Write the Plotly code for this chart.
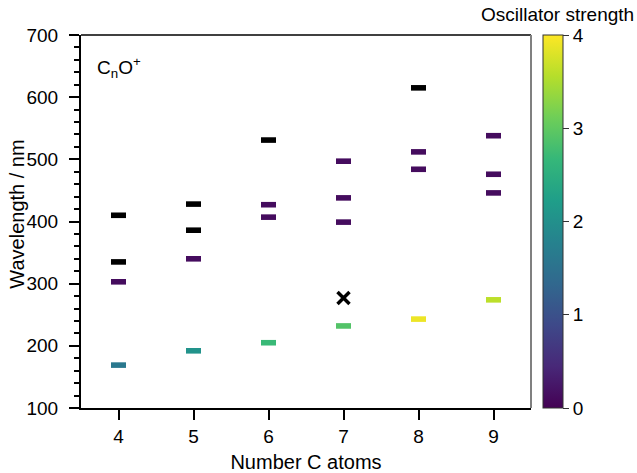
import plotly.graph_objects as go

# Data
n_colored = [4, 4, 5, 5, 6, 6, 6, 7, 7, 7, 7, 8, 8, 8, 9, 9, 9, 9]
wl_colored = [303, 169, 340, 192, 427, 407, 205, 497, 438, 399, 232, 512, 484, 243, 538, 476, 446, 274]
osc_colored = [0.12, 1.6, 0.12, 2.05, 0.12, 0.12, 2.7, 0.12, 0.12, 0.12, 2.9, 0.12, 0.12, 3.9, 0.12, 0.12, 0.12, 3.6]

n_dark = [4, 4, 5, 5, 6, 8]
wl_dark = [410, 335, 428, 386, 531, 615]

n_cross = [7]
wl_cross = [277]

cb_ticks = [0, 1, 2, 3, 4]

H = 9  # bar thickness in nm
FONT = "Liberation Sans, Arial, sans-serif"
FS = 19

fig = go.Figure()
fig.add_trace(go.Bar(
    x=n_colored, y=[H] * len(n_colored), base=[w - H / 2 for w in wl_colored],
    width=0.2,
    marker=dict(color=osc_colored, colorscale="Viridis", cmin=0, cmax=4, line=dict(width=0),
                colorbar=dict(x=1.0273, xanchor="left", xref="paper", y=0.5, yanchor="middle",
                              len=1, lenmode="fraction", thickness=20, xpad=0, ypad=0,
                              outlinewidth=1, outlinecolor="#333",
                              tickvals=cb_ticks, ticks="outside", ticklen=6, tickwidth=1,
                              tickcolor="#333",
                              tickfont=dict(family=FONT, size=FS, color="black"))),
    showlegend=False,
))
fig.add_trace(go.Bar(
    x=n_dark, y=[H] * len(n_dark), base=[w - H / 2 for w in wl_dark],
    width=0.2, marker=dict(color="black", line=dict(width=0)), showlegend=False,
))
fig.add_trace(go.Scatter(
    x=n_cross, y=wl_cross, mode="markers",
    marker=dict(symbol="x-thin", size=12, line=dict(width=3.5, color="black")),
    showlegend=False,
))

fig.update_layout(
    width=637, height=473,
    margin=dict(l=81, r=106, t=35, b=65, autoexpand=False),
    plot_bgcolor="white", paper_bgcolor="white",
    font=dict(family=FONT, size=FS, color="black"),
    barmode="overlay",
    xaxis=dict(range=[3.5, 9.5], tickvals=[4, 5, 6, 7, 8, 9], showgrid=False, zeroline=False,
               showline=True, linecolor="black", linewidth=2, mirror=False,
               ticks="outside", ticklen=10, tickwidth=2, tickcolor="black",
               title=dict(text="Number C atoms", standoff=10, font=dict(size=20))),
    yaxis=dict(range=[100, 700], tickvals=[100, 200, 300, 400, 500, 600, 700], showgrid=False,
               zeroline=False, showline=True, linecolor="black", linewidth=2,
               ticks="outside", ticklen=10, tickwidth=2, tickcolor="black", ticklabelstandoff=7,
               minor=dict(dtick=20, ticks="outside", ticklen=5, tickwidth=1.5, tickcolor="black")),
    shapes=[
        dict(type="line", xref="paper", yref="paper", x0=0, x1=1, y0=1, y1=1,
             line=dict(color="black", width=1.5)),
        dict(type="line", xref="paper", yref="paper", x0=1, x1=1, y0=0, y1=1,
             line=dict(color="#808080", width=2)),
    ],
    annotations=[
        dict(text="Wavelength / nm", xref="paper", yref="paper", x=-0.143, y=0.52,
             xanchor="center", yanchor="middle", textangle=-90, showarrow=False,
             font=dict(size=20)),
        dict(text="C<sub>n</sub>O<sup>+</sup>", xref="paper", yref="paper", x=0.03, y=0.955,
             xanchor="left", yanchor="top", showarrow=False, font=dict(size=FS)),
        dict(text="Oscillator strength", xref="paper", yref="paper", x=1.0585, y=1.022,
             xanchor="center", yanchor="bottom", showarrow=False, font=dict(size=19)),
    ],
)

fig.write_html("out.html", config={"displayModeBar": False},
               post_script="document.body.style.margin='0';document.body.style.overflow='hidden';")
